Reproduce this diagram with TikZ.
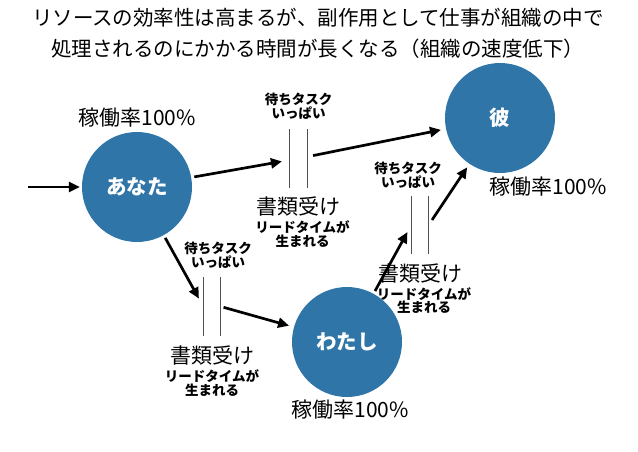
\documentclass[tikz,border=0pt]{standalone}
\usepackage{fontspec}
\setmainfont{Noto Sans CJK JP}
\usetikzlibrary{positioning,arrows.meta}
\definecolor{bubble}{RGB}{47,117,168}
\definecolor{bar}{RGB}{80,80,80}

\begin{document}
\begin{tikzpicture}[x=1pt, y=-1pt,
    person/.style={circle, fill=bubble, minimum size=110pt, inner sep=0pt, text=white, font=\fontsize{20.5}{22}\selectfont\bfseries},
    inbox/.style={inner sep=0pt, minimum width=17pt, minimum height=58pt},
    rate/.style={font=\fontsize{21}{23}\selectfont},
    task/.style={align=center, inner sep=0pt, font=\fontsize{13.5}{12.5}\selectfont\bfseries},
    desk/.style={inner sep=0pt, font=\fontsize{21}{23}\selectfont},
    flow/.style={-{Triangle[length=11pt,width=10pt]}, line width=2.7pt},
    node distance=8pt]
    \useasboundingbox (0,0) rectangle (638,451);

    % title
    \node[font=\fontsize{20.5}{31}\selectfont, align=center] (title) at (318,33)
        {リソースの効率性は高まるが、副作用として仕事が組織の中で\\処理されるのにかかる時間が長くなる（組織の速度低下）};

    % people
    \node[person] (anata) at (137,187) {あなた};
    \node[person] (kare) at (500,118) {彼};
    \node[person] (watashi) at (347,342) {わたし};
    \node[rate] (rate1) at (137,118) {稼働率100\%};
    \node[rate] (rate2) at (548,187) {稼働率100\%};
    \node[rate] (rate3) at (350,410) {稼働率100\%};

    % inboxes
    \node[inbox] (box1) at (298.5,158.5) {};
    \node[inbox] (box2) at (212,306.5) {};
    \node[inbox] (box3) at (420,225) {};
    \foreach \b in {box1,box2,box3} {
        \draw[bar, line width=0.9pt] (\b.north west) -- (\b.south west);
        \draw[bar, line width=0.9pt] (\b.north east) -- (\b.south east);
    }

    \node[task, above=10pt of box1] (task1) {待ちタスク\\いっぱい};
    \node[desk, below=9pt of box1] (desk1) {書類受け};
    \node[task, below=4pt of desk1, xshift=4pt] (lead1) {リードタイムが\\生まれる};

    \node[task, above=9pt of box2, xshift=6pt] (task2) {待ちタスク\\いっぱい};
    \node[desk, below=10pt of box2] (desk2) {書類受け};
    \node[task, below=4pt of desk2] (lead2) {リードタイムが\\生まれる};

    \node[task, above=7pt of box3, xshift=-12pt] (task3) {待ちタスク\\いっぱい};
    \node[desk, below=9pt of box3] (desk3) {書類受け};
    \node[task, below=4pt of desk3, xshift=4pt] (lead3) {リードタイムが\\生まれる};

    % flow
    \coordinate (start) at (28,187);
    \draw[flow, shorten >=2pt] (start) -- (anata);
    \draw[flow, shorten <=3pt, shorten >=8pt] (anata) -- (box1);
    \draw[flow, shorten <=6pt, shorten >=5pt] (box1) -- (kare);
    \draw[flow, shorten <=3pt, shorten >=9pt] (anata) -- (box2.west);
    \draw[flow, shorten <=3pt, shorten >=5pt] (box2.east) -- (watashi);
    \draw[flow, shorten <=3pt, shorten >=8pt] (watashi) -- (box3.west);
    \draw[flow, shorten <=6pt, shorten >=4pt] (box3.east) -- (kare);
\end{tikzpicture}
\end{document}
